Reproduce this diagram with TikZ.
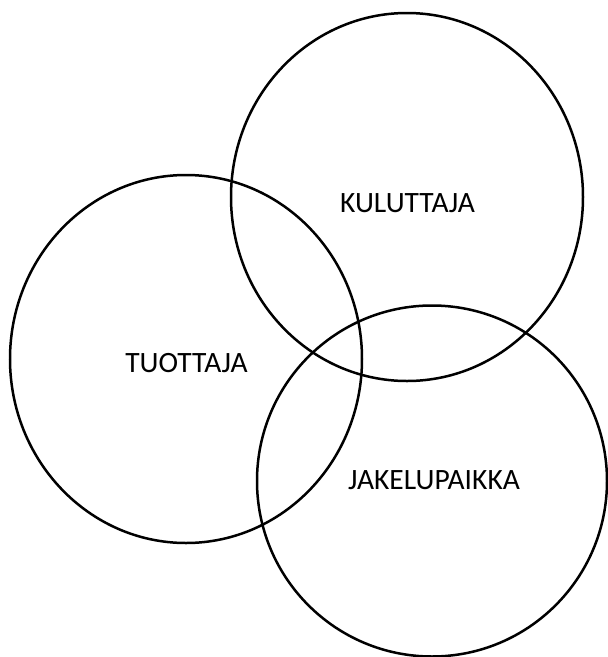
\documentclass[tikz,border=0pt]{standalone}
\usepackage{fontspec}
\setmainfont{Carlito}
\usetikzlibrary{shapes.geometric}

\begin{document}
\begin{tikzpicture}[
    x=1pt, y=-1pt,
    ring/.style={draw=black, line width=2.5pt, ellipse, inner sep=0pt, minimum width=352pt, minimum height=368pt},
    lbl/.style={font=\fontsize{29.5}{34}\selectfont, inner sep=0pt}
]
    \useasboundingbox (0,0) rectangle (608,657);

    \node[ring] (kulu) at (407,197) {};
    \node[ring] (tuot) at (186,359) {};
    \node[ring, minimum width=350pt, minimum height=351pt] (jake) at (432,481) {};

    \node[lbl] (kuluLbl) at (407.5,203) {KULUTTAJA};
    \node[lbl] (tuotLbl) at (186.5,363.5) {TUOTTAJA};
    \node[lbl] (jakeLbl) at (434,480) {JAKELUPAIKKA};
\end{tikzpicture}
\end{document}
